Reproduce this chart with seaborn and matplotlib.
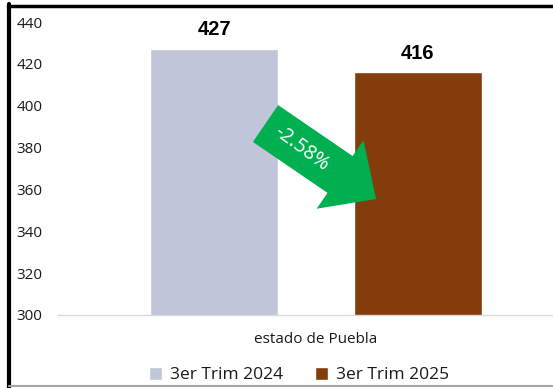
import matplotlib
matplotlib.use("Agg")
import matplotlib.pyplot as plt
from matplotlib.patches import FancyArrow
from matplotlib.lines import Line2D
from matplotlib.transforms import IdentityTransform
import numpy as np
import pandas as pd
import seaborn as sns

# Data
region = ["estado de Puebla", "estado de Puebla"]
periods = ["3er Trim 2024", "3er Trim 2025"]
values = [427, 416]
change_label = "-2.58%"
y_ticks = [300, 320, 340, 360, 380, 400, 420, 440]
colors = ["#C0C5DA", "#843C0C"]

df = pd.DataFrame({"region": region, "period": periods, "value": values})

sns.set_theme(style="white")
plt.rcParams["font.family"] = ["Open Sans", "DejaVu Sans"]

W, H, DPI = 553, 388, 100
fig = plt.figure(figsize=(W / DPI, H / DPI), dpi=DPI)
ax = fig.add_axes([58 / W, 73 / H, 516 / W, 293 / H])

sns.barplot(data=df, x="region", y="value", hue="period", palette=colors,
            width=0.789, gap=0.371, saturation=1, ax=ax, legend=True)

ax.set_ylim(300, 440)
ax.set_xlim(-0.5, 0.5)
ax.set_yticks(y_ticks)
ax.set_yticklabels([str(t) for t in y_ticks])
ax.set_xlabel("")
ax.set_ylabel("")
for s in ["top", "right", "left"]:
    ax.spines[s].set_visible(False)
ax.spines["bottom"].set_color("#D9D9D9")
ax.spines["bottom"].set_linewidth(1.0)
ax.tick_params(axis="y", length=0, pad=11, labelsize=11, labelcolor="#1A1A1A")
ax.tick_params(axis="x", length=0, pad=12, labelsize=11, labelcolor="#1A1A1A")

# Value labels above each bar
for cont in ax.containers:
    for bar in cont:
        h = bar.get_height()
        ax.annotate(f"{h:.0f}", (bar.get_x() + bar.get_width() / 2, h),
                    xytext=(0, 7), textcoords="offset points",
                    ha="center", va="bottom", fontsize=14.5, fontweight="bold",
                    family="Liberation Sans", color="black")

# Legend below the category label
sns.move_legend(ax, "center", bbox_to_anchor=(299 / W, (H - 375) / H),
                bbox_transform=fig.transFigure, ncol=2, frameon=False,
                title=None, fontsize=12.5, handlelength=0.75, handleheight=0.75,
                handletextpad=0.5, columnspacing=1.8, borderaxespad=0)
for t in ax.get_legend().get_texts():
    t.set_color("#1A1A1A")

# Green arrow marking the change between periods (pixel coordinates)
tail = np.array([265.5, H - 123.5])
tip = np.array([376.0, H - 199.0])
d = tip - tail
arrow = FancyArrow(tail[0], tail[1], d[0], d[1], width=44.6, head_width=83,
                   head_length=43.5, length_includes_head=True,
                   color="#00B050", linewidth=0, transform=IdentityTransform(),
                   zorder=5)
fig.patches.append(arrow)
u = d / np.hypot(*d)
c = tail + 44 * u
ang = np.degrees(np.arctan2(d[1], d[0]))
fig.text(c[0] / W, c[1] / H, change_label, rotation=ang - 2, rotation_mode="anchor",
         ha="center", va="center", color="white", fontsize=14.5, zorder=6)

# Chart frame
fig.add_artist(Line2D([9 / W, 9 / W], [0, (H - 4) / H], color="black",
                      linewidth=3, transform=fig.transFigure))
fig.add_artist(Line2D([7.5 / W, 1], [(H - 5.5) / H, (H - 5.5) / H], color="black",
                      linewidth=2.5, transform=fig.transFigure))
fig.add_artist(Line2D([9 / W, 1], [(H - 386) / H, (H - 386) / H], color="#A6A6A6",
                      linewidth=1.5, transform=fig.transFigure))

fig.savefig("out.png", dpi=DPI)
